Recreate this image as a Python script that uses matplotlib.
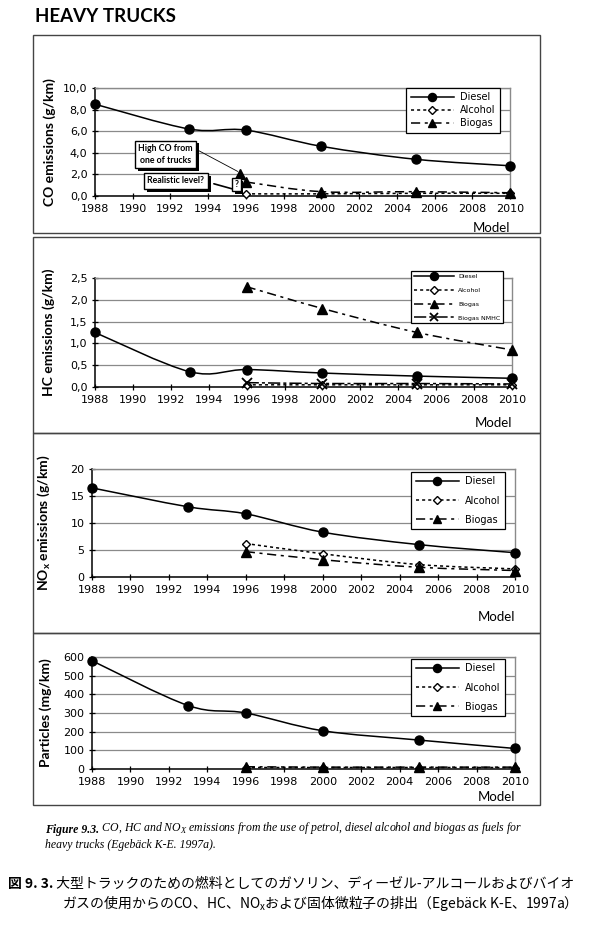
import matplotlib
matplotlib.use("Agg")
import matplotlib.pyplot as plt
from matplotlib.path import Path
from matplotlib.patches import PathPatch, Rectangle
from matplotlib.lines import Line2D
from matplotlib.ticker import FuncFormatter
import matplotlib.patheffects as pe
import numpy as np

# ---- data ----
years_diesel = [1988, 1993, 1996, 2000, 2005, 2010]
years_alt = [1996, 2000, 2005, 2010]

co_diesel = [8.5, 6.2, 6.1, 4.6, 3.4, 2.8]
co_alcohol = [0.2, 0.2, 0.25, 0.25]
co_biogas = [1.3, 0.4, 0.4, 0.3]
co_outlier_year = [1995.7]
co_outlier = [2.0]

hc_diesel = [1.25, 0.35, 0.4, 0.32, 0.25, 0.2]
hc_alcohol = [0.05, 0.05, 0.05, 0.05]
hc_biogas = [2.3, 1.8, 1.25, 0.85]
hc_nmhc = [0.1, 0.08, 0.08, 0.07]

nox_diesel = [16.5, 13.0, 11.7, 8.3, 6.0, 4.5]
nox_alcohol = [6.2, 4.3, 2.3, 1.5]
nox_biogas = [4.7, 3.2, 1.8, 1.2]

pm_diesel = [580, 340, 300, 205, 155, 110]
pm_alcohol = [8, 8, 8, 8]
pm_biogas = [12, 10, 10, 10]

W, H = 600, 925
NARROW = ['Liberation Sans Narrow', 'DejaVu Sans']
SANS = ['Lato', 'DejaVu Sans']
GRID = '#8a8a8a'

LS_ALC = (0, (2, 2))
LS_BIO = (0, (6, 3, 2, 3))
LS_NMHC = (0, (8, 2, 2, 2))

fig = plt.figure(figsize=(W / 100, H / 100), dpi=100)


def fx(px):
    return px / W


def fy(py):
    return 1 - py / H


def smooth_path(xs, ys):
    # Excel-style smoothed line: Catmull-Rom turned into cubic Bezier segments
    pts = np.column_stack([xs, ys]).astype(float)
    n = len(pts)
    verts = [pts[0]]
    codes = [Path.MOVETO]
    for i in range(n - 1):
        p0 = pts[max(i - 1, 0)]
        p1 = pts[i]
        p2 = pts[i + 1]
        p3 = pts[min(i + 2, n - 1)]
        verts += [p1 + (p2 - p0) / 6, p2 - (p3 - p1) / 6, p2]
        codes += [Path.CURVE4] * 3
    return Path(verts, codes)


def draw_series(ax, xs, ys, ls, marker, mfc, ms, lw=1.1, mew=1.0):
    ax.add_patch(PathPatch(smooth_path(xs, ys), fill=False, ec='black',
                           lw=lw, ls=ls, zorder=3, clip_on=False))
    ax.plot(xs, ys, ls='none', marker=marker, mfc=mfc, mec='black', ms=ms,
            mew=mew, zorder=4, clip_on=False)
    return Line2D([], [], color='black', lw=lw, ls=ls, marker=marker,
                  mfc=mfc, mec='black', ms=ms * 0.9, mew=mew)


def make_axes(left, right, top, bottom, ymax, ystep, fmt, ylabel, label_x):
    ax = fig.add_axes([fx(left), fy(bottom), fx(right - left), (bottom - top) / H])
    ax.set_xlim(1988, 2010)
    ax.set_ylim(0, ymax)
    ax.set_xticks(np.arange(1988, 2011, 2))
    ax.set_yticks(np.arange(0, ymax + ystep / 2, ystep))
    ax.yaxis.set_major_formatter(FuncFormatter(fmt))
    ax.grid(axis='y', color=GRID, lw=0.9)
    ax.set_axisbelow(True)
    for s in ('top', 'right'):
        ax.spines[s].set_color(GRID)
        ax.spines[s].set_linewidth(1.0)
    for s in ('left', 'bottom'):
        ax.spines[s].set_color('black')
        ax.spines[s].set_linewidth(1.1)
    ax.tick_params(direction='inout', length=5, width=0.9, pad=3)
    for lab in ax.get_xticklabels() + ax.get_yticklabels():
        lab.set_family(NARROW)
        lab.set_fontsize(8)
    ax.set_ylabel(ylabel, fontsize=10, fontweight='bold', family=SANS)
    ax.yaxis.set_label_coords(label_x, 0.5)
    return ax


def add_model(ax, yfrac):
    ax.text(1.0, yfrac, 'Model', transform=ax.transAxes, ha='right',
            va='center', fontsize=9.5, family=SANS)


def add_legend(ax, handles, labels, right, top, size, spacing, hlen=4.5):
    leg = ax.legend(handles, labels, loc='upper right',
                    bbox_to_anchor=(fx(right), fy(top)),
                    bbox_transform=fig.transFigure, fancybox=False,
                    framealpha=1, edgecolor='black', numpoints=1,
                    handlelength=hlen, handletextpad=0.6, borderpad=0.45,
                    borderaxespad=0, labelspacing=spacing,
                    prop={'family': NARROW, 'size': size})
    leg.get_frame().set_linewidth(0.9)
    leg.set_zorder(10)
    return leg


def comma1(v, pos):
    return f'{v:.1f}'.replace('.', ',')


def integer(v, pos):
    return f'{v:.0f}'


# ---- panel frames ----
for top, bottom in [(35, 233), (237, 433), (433, 633), (633, 805)]:
    fig.add_artist(Rectangle((fx(33), fy(bottom)), fx(540 - 33), (bottom - top) / H,
                             transform=fig.transFigure, fill=False,
                             ec='#444444', lw=1.0))

fig.text(fx(35), fy(16), 'HEAVY TRUCKS', fontsize=13.5, fontweight='bold',
         family=SANS, va='center', ha='left')

# ---- CO ----
ax1 = make_axes(95, 510, 88, 196, 10, 2, comma1, 'CO emissions (g/km)', -0.095)
h_d = draw_series(ax1, years_diesel, co_diesel, '-', 'o', 'black', 6.5)
h_a = draw_series(ax1, years_alt, co_alcohol, LS_ALC, 'D', 'white', 4.5)
h_b = draw_series(ax1, years_alt, co_biogas, LS_BIO, '^', 'black', 6.5)
ax1.plot(co_outlier_year, co_outlier, ls='none', marker='^', mfc='black',
         mec='black', ms=6.5, zorder=4)
add_legend(ax1, [h_d, h_a, h_b], ['Diesel', 'Alcohol', 'Biogas'], 500, 88, 7, 0.3)
add_model(ax1, -0.30)

shadow = [pe.withSimplePatchShadow(offset=(2, -2), shadow_rgbFace='black', alpha=1)]
box_kw = dict(boxstyle='square,pad=0.4', fc='white', ec='black', lw=1.0)
for txt, xa, ya in [('High CO from\none of trucks', 0.17, 0.385),
                    ('Realistic level?', 0.195, 0.14)]:
    t = ax1.text(xa, ya, txt, transform=ax1.transAxes, ha='center', va='center',
                 fontsize=6.3, fontweight='bold', family=SANS, bbox=box_kw,
                 zorder=7, linespacing=1.35)
    t.get_bbox_patch().set_path_effects(shadow)
ax1.annotate('', xy=(co_outlier_year[0], co_outlier[0] + 0.15), xycoords='data',
             xytext=(0.245, 0.43), textcoords='axes fraction',
             arrowprops=dict(arrowstyle='-', color='black', lw=0.6), zorder=5)
ax1.annotate('', xy=(1995.4, 0.6), xycoords='data',
             xytext=(0.28, 0.12), textcoords='axes fraction',
             arrowprops=dict(arrowstyle='-', color='black', lw=1.2), zorder=5)
tq = ax1.text(1995.5, 1.05, '?', ha='center', va='center', fontsize=6.3,
              fontweight='bold', family=SANS, zorder=7,
              bbox=dict(boxstyle='square,pad=0.25', fc='white', ec='black', lw=1.0))
tq.get_bbox_patch().set_path_effects(shadow)

# ---- HC ----
ax2 = make_axes(95, 512, 278, 387, 2.5, 0.5, comma1, 'HC emissions (g/km)', -0.095)
h_d = draw_series(ax2, years_diesel, hc_diesel, '-', 'o', 'black', 6.5)
h_a = draw_series(ax2, years_alt, hc_alcohol, LS_ALC, 'D', 'white', 4.5)
h_b = draw_series(ax2, years_alt, hc_biogas, LS_BIO, '^', 'black', 6.5)
h_n = draw_series(ax2, years_alt, hc_nmhc, LS_NMHC, 'x', 'black', 7, mew=1.3)
add_legend(ax2, [h_d, h_a, h_b, h_n], ['Diesel', 'Alcohol', 'Biogas', 'Biogas NMHC'],
           503, 271, 4.5, 1.35, hlen=6.5)
add_model(ax2, -0.33)

# ---- NOx ----
ax3 = make_axes(92, 515, 469, 577, 20, 5, integer,
                r'NO$_\mathregular{x}$ emissions (g/km)', -0.095)
h_d = draw_series(ax3, years_diesel, nox_diesel, '-', 'o', 'black', 6.5)
h_a = draw_series(ax3, years_alt, nox_alcohol, LS_ALC, 'D', 'white', 4.5)
h_b = draw_series(ax3, years_alt, nox_biogas, LS_BIO, '^', 'black', 6.5)
add_legend(ax3, [h_d, h_a, h_b], ['Diesel', 'Alcohol', 'Biogas'], 505, 472, 7, 0.95)
add_model(ax3, -0.37)

# ---- Particles ----
ax4 = make_axes(92, 515, 657, 769, 600, 100, integer, 'Particles (mg/km)', -0.095)
h_d = draw_series(ax4, years_diesel, pm_diesel, '-', 'o', 'black', 6.5)
h_a = draw_series(ax4, years_alt, pm_alcohol, LS_ALC, 'D', 'white', 4.5)
h_b = draw_series(ax4, years_alt, pm_biogas, LS_BIO, '^', 'black', 6.5)
add_legend(ax4, [h_d, h_a, h_b], ['Diesel', 'Alcohol', 'Biogas'], 505, 659, 7, 0.95)
add_model(ax4, -0.25)

# ---- captions ----
SERIF = ['Liberation Serif', 'DejaVu Serif']
t1 = fig.text(fx(45), fy(830), 'Figure 9.3.', fontsize=8.5, family=SERIF,
              style='italic', fontweight='bold', va='center')
ax4.annotate(r' CO, HC and NO$_\mathregular{X}$ emissions from the use of petrol, '
             'diesel alcohol and biogas as fuels for',
             xy=(1, 0), xycoords=t1, va='bottom', ha='left', fontsize=8.5,
             family=SERIF, style='italic', annotation_clip=False)
fig.text(fx(45), fy(845), 'heavy trucks (Egebäck K-E. 1997a).', fontsize=8.5,
         family=SERIF, style='italic', va='center')

JP = ['Noto Sans CJK JP', 'DejaVu Sans']
j1 = fig.text(fx(8), fy(884), '図 9. 3.', fontsize=10, family=JP,
              fontweight='bold', va='center')
ax4.annotate(' 大型トラックのための燃料としてのガソリン、ディーゼル-アルコールおよびバイオ',
             xy=(1, 0), xycoords=j1, va='bottom', ha='left', fontsize=10,
             family=JP, annotation_clip=False)
fig.text(fx(62), fy(903), r'ガスの使用からのCO、HC、NO$_\mathregular{x}$および固体微粒子の排出'
         '（Egebäck K-E、1997a）', fontsize=10, family=JP, va='center')

fig.savefig('out.png', dpi=100, facecolor='white')
